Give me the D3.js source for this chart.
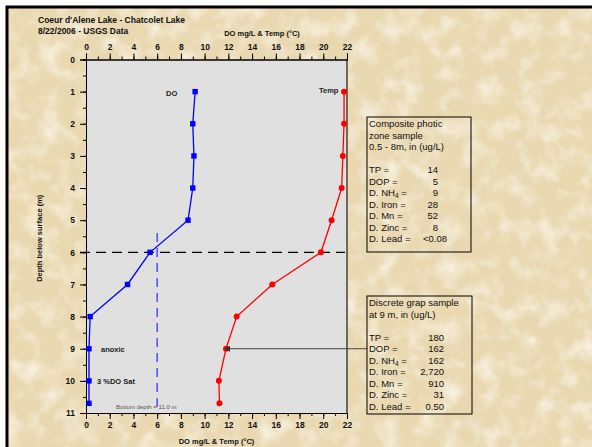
<!DOCTYPE html>
<html>
<head>
<meta charset="utf-8">
<script src="https://cdn.jsdelivr.net/npm/d3@7"></script>
<style>
  body { margin: 0; background: #ffffff; }
  text { font-family: Arial, "Liberation Sans", sans-serif; }
</style>
</head>
<body>
<div id="chart"></div>
<script>
// profile data
var depths = [1, 2, 3, 4, 5, 6, 7, 8, 9, 10, 10.7];
var doValues = [9.2, 9.0, 9.1, 9.0, 8.6, 5.4, 3.5, 0.35, 0.25, 0.25, 0.25];
var tempValues = [21.75, 21.75, 21.65, 21.55, 20.7, 19.8, 15.7, 12.7, 11.8, 11.2, 11.25];

var xTicks = [0, 2, 4, 6, 8, 10, 12, 14, 16, 18, 20, 22];
var yTicks = [0, 1, 2, 3, 4, 5, 6, 7, 8, 9, 10, 11];

var photicDepth = 6;      // dashed black line
var doSatLine = 6;        // dashed blue line
var arrowDepth = 9;

var box1Header = ["Composite photic", "zone sample", "0.5 - 8m, in (ug/L)"];
var box2Header = ["Discrete grap sample", "at 9 m, in (ug/L)"];
var boxLabels = ["TP =", "DOP =", "D. NH4 =", "D. Iron =", "D. Mn =", "D. Zinc =", "D. Lead ="];
var box1Values = ["14", "5", "9", "28", "52", "8", "<0.08"];
var box2Values = ["180", "162", "162", "2,720", "910", "31", "0.50"];

var width = 592, height = 447;
var svg = d3.select("#chart").append("svg")
    .attr("width", width)
    .attr("height", height);

// parchment background (two noise layers: dark blotches + light blotches)
var defs = svg.append("defs");
var f = defs.append("filter").attr("id", "paper")
    .attr("x", 0).attr("y", 0).attr("width", "100%").attr("height", "100%");
f.append("feTurbulence").attr("type", "fractalNoise")
    .attr("baseFrequency", "0.03").attr("numOctaves", 4).attr("seed", 7);
f.append("feColorMatrix").attr("type", "matrix")
    .attr("values", "0 0 0 0 0.80  0 0 0 0 0.68  0 0 0 0 0.44  2.2 0 0 0 -0.95");
var f2 = defs.append("filter").attr("id", "paper2")
    .attr("x", 0).attr("y", 0).attr("width", "100%").attr("height", "100%");
f2.append("feTurbulence").attr("type", "fractalNoise")
    .attr("baseFrequency", "0.05").attr("numOctaves", 3).attr("seed", 21);
f2.append("feColorMatrix").attr("type", "matrix")
    .attr("values", "0 0 0 0 0.98  0 0 0 0 0.95  0 0 0 0 0.86  2.2 0 0 0 -0.95");

svg.append("rect").attr("x", 7).attr("y", 7).attr("width", 600).attr("height", 460)
    .attr("fill", "#e9d8b0");
svg.append("rect").attr("x", 7).attr("y", 7).attr("width", 600).attr("height", 460)
    .attr("filter", "url(#paper)").attr("opacity", 0.7);
svg.append("rect").attr("x", 7).attr("y", 7).attr("width", 600).attr("height", 460)
    .attr("filter", "url(#paper2)").attr("opacity", 0.75);
svg.append("rect").attr("x", 7).attr("y", 7).attr("width", 600).attr("height", 460)
    .attr("fill", "none").attr("stroke", "#000").attr("stroke-width", 3);

var x = d3.scaleLinear().domain([0, 22]).range([86, 347]);
var y = d3.scaleLinear().domain([0, 11]).range([59.5, 413]);

// plot area
svg.append("rect")
    .attr("x", x(0)).attr("y", y(0))
    .attr("width", x(22) - x(0)).attr("height", y(11) - y(0))
    .attr("fill", "#e0e0e0");
svg.append("line")
    .attr("x1", x(22)).attr("x2", x(22)).attr("y1", y(0)).attr("y2", y(11))
    .attr("stroke", "#4a4035").attr("stroke-width", 1.5);

// axes: minor ticks first, then major ticks with labels
function styleAxis(g) {
    g.attr("font-family", null).attr("font-size", null);
    g.selectAll("text").attr("font-size", "8.5px").attr("font-weight", "bold").attr("fill", "#111");
    g.selectAll("line, path").attr("stroke", "#000");
}
svg.append("g").attr("transform", "translate(0," + y(0) + ")")
    .call(d3.axisTop(x).tickValues(d3.range(0, 23, 1)).tickSize(3).tickFormat(""))
    .call(styleAxis);
svg.append("g").attr("transform", "translate(0," + y(0) + ")")
    .call(d3.axisTop(x).tickValues(xTicks).tickSize(6).tickPadding(4))
    .call(styleAxis);
svg.append("g").attr("transform", "translate(0," + y(11) + ")")
    .call(d3.axisBottom(x).tickValues(d3.range(0, 23, 1)).tickSize(3).tickFormat(""))
    .call(styleAxis);
svg.append("g").attr("transform", "translate(0," + y(11) + ")")
    .call(d3.axisBottom(x).tickValues(xTicks).tickSize(6).tickPadding(3))
    .call(styleAxis);
svg.append("g").attr("transform", "translate(" + x(0) + ",0)")
    .call(d3.axisLeft(y).tickValues(d3.range(0, 11.5, 0.5)).tickSize(3).tickFormat(""))
    .call(styleAxis);
svg.append("g").attr("transform", "translate(" + x(0) + ",0)")
    .call(d3.axisLeft(y).tickValues(yTicks).tickSize(6).tickPadding(5))
    .call(styleAxis);

// titles
svg.append("text").attr("x", 38).attr("y", 23)
    .attr("font-size", "8.5px").attr("font-weight", "bold").attr("fill", "#111")
    .text("Coeur d'Alene Lake - Chatcolet Lake");
svg.append("text").attr("x", 38).attr("y", 34)
    .attr("font-size", "8.5px").attr("font-weight", "bold").attr("fill", "#111")
    .text("8/22/2006 - USGS Data");
svg.append("text").attr("x", 262).attr("y", 36).attr("text-anchor", "middle")
    .attr("font-size", "7.5px").attr("font-weight", "bold").attr("fill", "#111")
    .text("DO mg/L & Temp (\u00B0C)");
svg.append("text").attr("x", (x(0) + x(22)) / 2).attr("y", 444).attr("text-anchor", "middle")
    .attr("font-size", "7.5px").attr("font-weight", "bold").attr("fill", "#111")
    .text("DO mg/L & Temp (\u00B0C)");
svg.append("text")
    .attr("transform", "translate(42," + ((y(0) + y(11)) / 2 + 2) + ") rotate(-90)")
    .attr("text-anchor", "middle")
    .attr("font-size", "7.5px").attr("font-weight", "bold").attr("fill", "#111")
    .text("Depth below surface (m)");

// reference lines
svg.append("line")
    .attr("x1", 80).attr("x2", x(22) - 2).attr("y1", y(photicDepth)).attr("y2", y(photicDepth))
    .attr("stroke", "#000").attr("stroke-width", 1.2).attr("stroke-dasharray", "10,6");
svg.append("line")
    .attr("x1", x(doSatLine)).attr("x2", x(doSatLine)).attr("y1", y(5.4)).attr("y2", y(11) - 3)
    .attr("stroke", "#5555ff").attr("stroke-width", 1.6).attr("stroke-dasharray", "9,6");

// profiles
var doPts = depths.map(function(d, i) { return [doValues[i], d]; });
var tempPts = depths.map(function(d, i) { return [tempValues[i], d]; });
var line = d3.line().x(function(d) { return x(d[0]); }).y(function(d) { return y(d[1]); });

svg.append("path").attr("d", line(doPts))
    .attr("fill", "none").attr("stroke", "#0000ff").attr("stroke-width", 1.3);
svg.selectAll(".doPt").data(doPts).enter().append("rect")
    .attr("x", function(d) { return x(d[0]) - 2.7; })
    .attr("y", function(d) { return y(d[1]) - 2.7; })
    .attr("width", 5.4).attr("height", 5.4)
    .attr("fill", "#0000ff");

svg.append("path").attr("d", line(tempPts))
    .attr("fill", "none").attr("stroke", "#ff0000").attr("stroke-width", 1.3);
svg.selectAll(".tPt").data(tempPts).enter().append("circle")
    .attr("cx", function(d) { return x(d[0]); })
    .attr("cy", function(d) { return y(d[1]); })
    .attr("r", 3)
    .attr("fill", "#ff0000");

// series / note labels
function note(tx, ty, str, size, weight, col) {
    svg.append("text").attr("x", tx).attr("y", ty)
        .attr("font-size", size).attr("font-weight", weight).attr("fill", col)
        .text(str);
}
note(166, 96, "DO", "7.5px", "bold", "#222");
note(319, 93, "Temp", "7.5px", "bold", "#222");
note(101, 352, "anoxic", "7.5px", "bold", "#222");
note(97, 384, "3 %DO Sat", "7.5px", "bold", "#222");
note(116, 409, "Bottom depth = 11.0 m", "6px", "normal", "#555");

// arrow from box 2 to 9 m temperature point
defs.append("marker").attr("id", "arr")
    .attr("viewBox", "0 0 10 10").attr("refX", 0).attr("refY", 5)
    .attr("markerWidth", 6).attr("markerHeight", 6).attr("orient", "auto-start-reverse")
    .append("path").attr("d", "M0,0 L10,5 L0,10 z").attr("fill", "#333");
var ti = depths.indexOf(arrowDepth);
svg.append("line")
    .attr("x1", x(tempValues[ti]) + 4).attr("x2", 367)
    .attr("y1", y(arrowDepth)).attr("y2", y(arrowDepth))
    .attr("stroke", "#444").attr("stroke-width", 1)
    .attr("marker-start", "url(#arr)");

// text boxes
function drawBox(bx, by, bw, bh, header, values, valRight) {
    var g = svg.append("g");
    g.append("rect").attr("x", bx).attr("y", by).attr("width", bw).attr("height", bh)
        .attr("fill", "none").attr("stroke", "#000").attr("stroke-width", 1);
    var lh = 11.5;
    var base = by + 10;
    header.forEach(function(h, i) {
        g.append("text").attr("x", bx + 2).attr("y", base + i * lh)
            .attr("font-size", "9.5px").attr("fill", "#111").text(h);
    });
    var start = base + (header.length + 1) * lh;
    boxLabels.forEach(function(lab, i) {
        var t = g.append("text").attr("x", bx + 2).attr("y", start + i * lh)
            .attr("font-size", "9.5px").attr("fill", "#111");
        if (lab.indexOf("NH4") >= 0) {
            t.append("tspan").text("D. NH");
            t.append("tspan").attr("font-size", "6.5px").attr("dy", 2).text("4");
            t.append("tspan").attr("dy", -2).text(" =");
        } else {
            t.text(lab);
        }
        var v = values[i];
        g.append("text").attr("x", v.charAt(0) == "<" ? valRight + 9 : valRight).attr("y", start + i * lh)
            .attr("text-anchor", "end")
            .attr("font-size", "9.5px").attr("fill", "#111").text(v);
    });
}
drawBox(367, 117, 104, 135, box1Header, box1Values, 438);
drawBox(367, 296, 105, 118, box2Header, box2Values, 444);
</script>
</body>
</html>
